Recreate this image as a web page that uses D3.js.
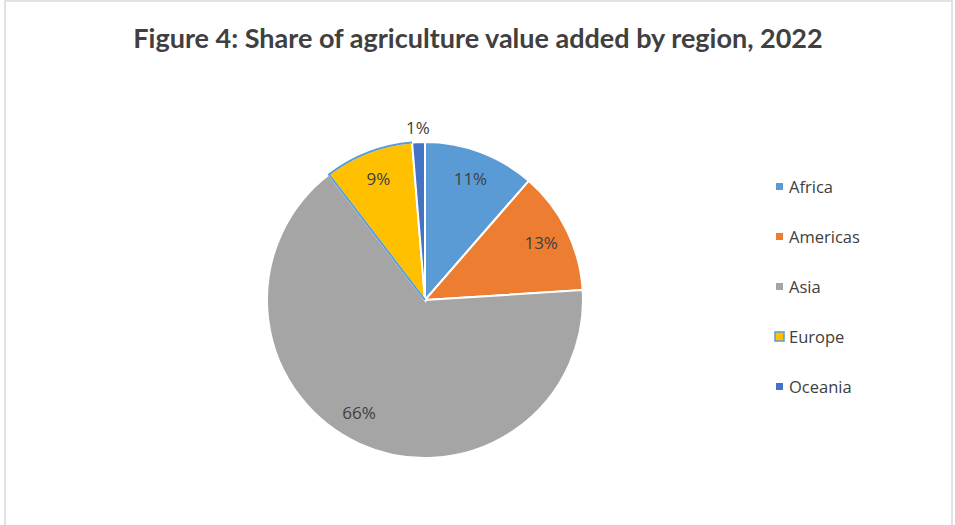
<!DOCTYPE html>
<html lang="en">
  <head>
    <meta charset="utf-8">
    <title>Share of agriculture value added by region</title>
    <script src="https://d3js.org/d3.v7.min.js"></script>
    <style>
      body { margin: 0; background: #fff; }
      svg { display: block; }
    </style>
  </head>
  <body>
  <script>

  // data
  var regions = ["Africa", "Americas", "Asia", "Europe", "Oceania"];
  var shares = [11.4, 12.6, 65.6, 9.1, 1.3];
  var colors = ["#5B9BD5", "#ED7D31", "#A5A5A5", "#FFC000", "#4472C4"];

  var w = 955;
  var h = 525;
  var cx = 425, cy = 300, radius = 158;

  var svg = d3.select("body")
    .append("svg")
    .attr("width", w)
    .attr("height", h);

  // chart frame
  svg.append("rect")
    .attr("x", 5)
    .attr("y", 1)
    .attr("width", 947)
    .attr("height", 540)
    .style("fill", "#fff")
    .style("stroke", "#d9d9d9")
    .style("stroke-width", 1.5);

  svg.append("text")
    .attr("x", 478)
    .attr("y", 48)
    .attr("text-anchor", "middle")
    .style("font-family", "Lato, 'Open Sans', sans-serif")
    .style("font-weight", "bold")
    .style("font-size", "27px")
    .style("fill", "#404040")
    .text("Figure 4: Share of agriculture value added by region, 2022");

  var rows = regions.map(function(r, i) {
    return {region: r, share: shares[i], color: colors[i]};
  });

  var pie = d3.pie()
    .sort(null)
    .value(d => d.share);

  var arcs = pie(rows);

  var arc = d3.arc()
    .innerRadius(0)
    .outerRadius(radius);

  var g = svg.append("g")
    .attr("transform", `translate(${cx},${cy})`);

  g.selectAll("path.slice")
    .data(arcs)
    .enter().append("path")
    .attr("class", "slice")
    .attr("d", arc)
    .style("fill", d => d.data.color)
    .style("stroke", "#fff")
    .style("stroke-width", 2);

  // Europe keeps a blue outline on its left edge and outer arc
  var eu = arcs.find(d => d.data.region === "Europe");
  var pt = a => [Math.sin(a) * radius, -Math.cos(a) * radius];
  var p0 = pt(eu.startAngle), p1 = pt(eu.endAngle);
  g.append("path")
    .attr("d", `M0,0L${p0[0]},${p0[1]}A${radius},${radius} 0 0 1 ${p1[0]},${p1[1]}`)
    .style("fill", "none")
    .style("stroke", "#5B9BD5")
    .style("stroke-width", 2);

  // labels: inside at ~0.82R, the tiny slice outside
  var inLabel = d3.arc().innerRadius(radius * 0.82).outerRadius(radius * 0.82);
  var outLabel = d3.arc().innerRadius(radius * 1.09).outerRadius(radius * 1.09);

  g.selectAll("text.lbl")
    .data(arcs)
    .enter().append("text")
    .attr("class", "lbl")
    .attr("transform", function(d) {
      var p = d.data.share < 3 ? outLabel.centroid(d) : inLabel.centroid(d);
      if (d.data.region === "Asia") {
        // best-fit placement pushes it a little towards the lower left
        var a = (d.startAngle + d.endAngle) / 2 + 0.1;
        p = [Math.sin(a) * radius * 0.83, -Math.cos(a) * radius * 0.83];
      }
      return `translate(${p[0]},${p[1]})`;
    })
    .attr("text-anchor", "middle")
    .attr("dy", "0.35em")
    .style("font-family", "'Open Sans', Lato, sans-serif")
    .style("font-size", "17px")
    .style("fill", "#404040")
    .text(d => Math.round(d.data.share) + "%");

  // legend
  var legend = svg.append("g")
    .attr("transform", "translate(779,187)");

  var item = legend.selectAll("g")
    .data(rows)
    .enter().append("g")
    .attr("transform", (d, i) => `translate(0,${i * 50})`);

  item.append("rect")
    .attr("x", d => d.region === "Europe" ? -4 : -3)
    .attr("y", d => d.region === "Europe" ? -5 : -4)
    .attr("width", d => d.region === "Europe" ? 9 : 7)
    .attr("height", d => d.region === "Europe" ? 9 : 7)
    .style("fill", d => d.color)
    .style("stroke", d => d.region === "Europe" ? "#5B9BD5" : "none")
    .style("stroke-width", 1.5);

  item.append("text")
    .attr("x", 10)
    .attr("dy", "0.35em")
    .style("font-family", "'Open Sans', Lato, sans-serif")
    .style("font-size", "16.5px")
    .style("fill", "#404040")
    .text(d => d.region);

  </script>
  </body>
</html>
